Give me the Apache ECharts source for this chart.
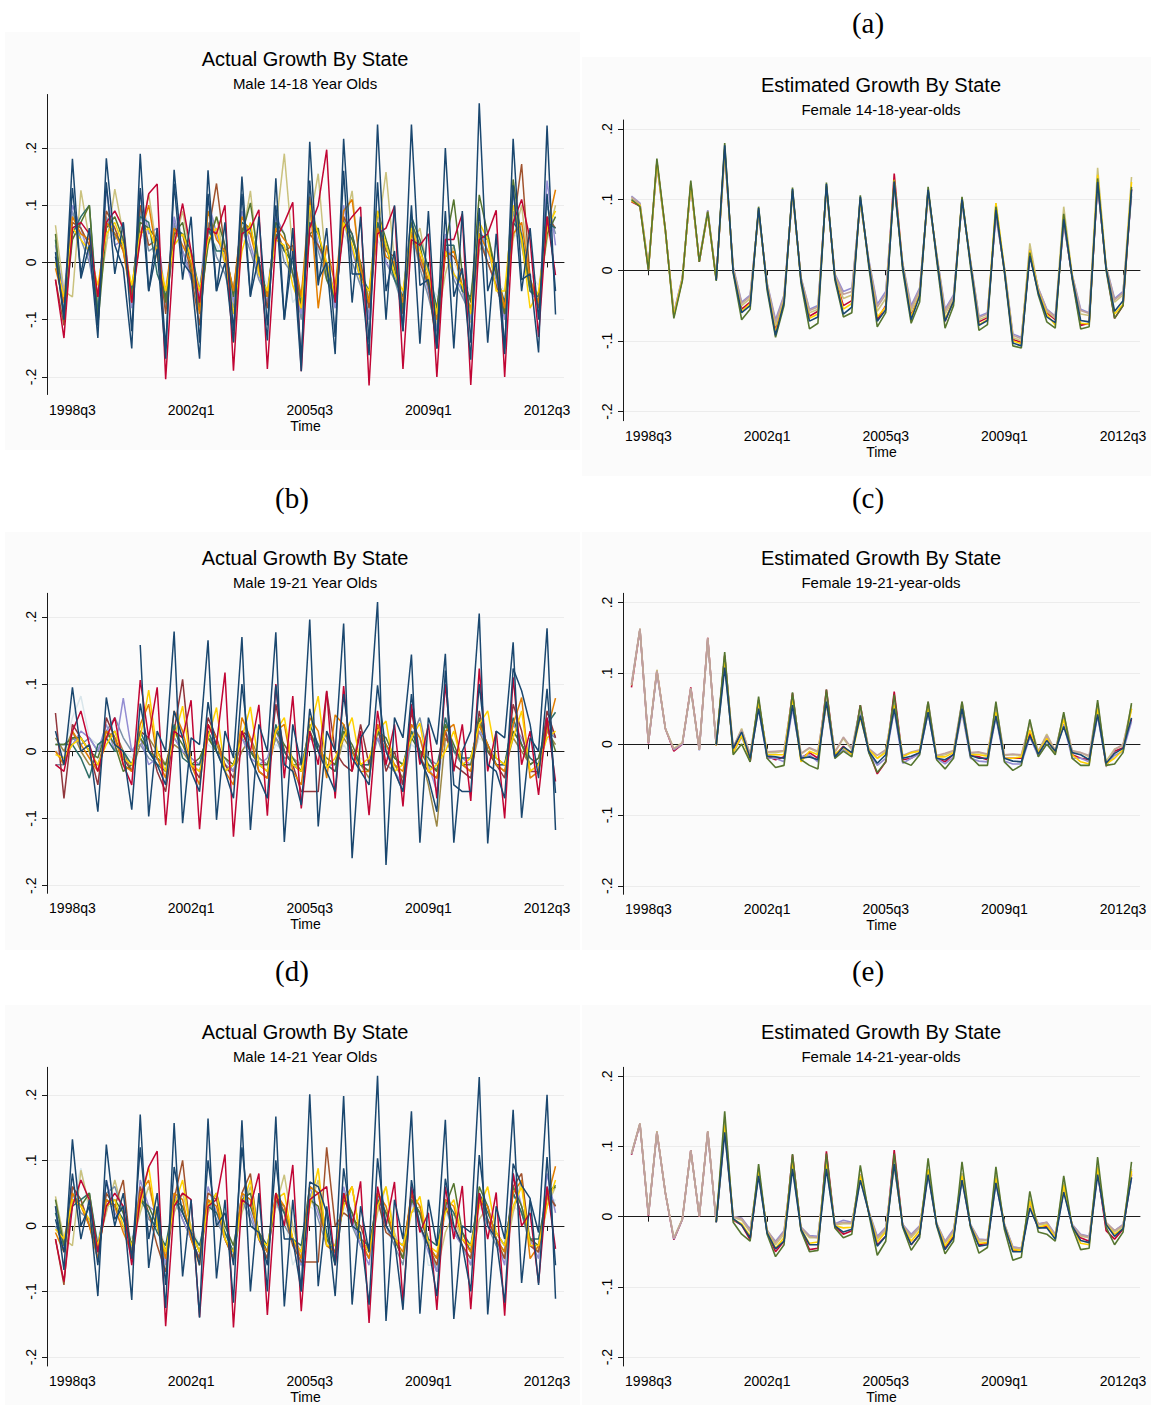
<!DOCTYPE html>
<html><head><meta charset="utf-8"><title>Growth By State</title>
<script src="https://cdn.jsdelivr.net/npm/echarts/dist/echarts.min.js"></script>
<style>html,body{margin:0;padding:0;background:#fff}#chart{width:1151px;height:1405px}</style>
</head><body><div id="chart"></div>
<script>
// ---------- categories / ticks ----------
const QUARTERS = (function () {
  const out = [];
  for (let y = 1997; y <= 2013; y++) for (let q = 1; q <= 4; q++) out.push(y + 'q' + q);
  return out.slice(out.indexOf('1997q4'), out.indexOf('2013q1') + 1);
})();
const TICK_LABELS = ['1998q3', '2002q1', '2005q3', '2009q1', '2012q3'];
const Y_TICKS = [-0.2, -0.1, 0, 0.1, 0.2];
const N10 = [null, null, null, null, null, null, null, null, null, null];

// ---------- (a) Actual, Male 14-18 (1998q1..2012q4) ----------
const A_navy1 = [0.018,-0.100,0.181,-0.028,0.030,-0.132,0.182,0.030,-0.010,-0.150,
0.190,-0.050,0.024,-0.168,0.162,0.000,-0.020,-0.168,0.161,-0.050,
0.000,-0.139,0.150,-0.058,0.010,-0.136,0.147,-0.100,0.020,-0.190,
0.211,-0.030,0.000,-0.160,0.216,-0.020,-0.020,-0.162,0.241,-0.050,
0.020,-0.120,0.241,-0.040,-0.030,-0.150,0.200,-0.060,-0.010,-0.170,
0.278,-0.050,0.000,-0.160,0.216,-0.030,-0.020,-0.157,0.239,-0.091];
const A_navy2 = [0.010,-0.090,0.130,-0.020,0.060,-0.110,0.140,-0.020,0.070,-0.120,
0.130,-0.050,0.060,-0.150,0.138,-0.030,0.080,-0.140,0.120,-0.050,
0.070,-0.120,0.120,-0.060,0.080,-0.110,0.100,-0.100,0.060,-0.170,
0.143,-0.040,0.060,-0.130,0.160,-0.070,0.080,-0.140,0.140,-0.100,
0.100,-0.120,0.100,-0.142,0.090,-0.150,0.090,-0.150,0.090,-0.140,
0.095,-0.140,0.050,-0.150,0.135,-0.050,0.060,-0.100,0.120,-0.050];
const A_cran = [-0.030,-0.132,0.060,0.070,0.050,-0.060,0.070,0.090,0.060,-0.070,
0.040,0.120,0.137,-0.204,0.030,0.103,0.020,-0.070,0.060,0.050,
0.100,-0.189,0.050,0.060,0.092,-0.186,0.040,0.070,0.105,-0.190,
0.060,0.100,0.197,-0.070,0.060,0.080,0.097,-0.215,0.050,0.060,
0.098,-0.186,0.040,0.030,0.050,-0.200,0.040,0.040,0.085,-0.214,
0.040,0.050,0.091,-0.200,0.070,0.110,0.040,-0.130,0.080,-0.022];
const A_gold = [0.000,-0.060,0.060,0.040,0.020,-0.040,0.050,0.070,0.030,-0.040,
0.050,0.060,0.020,-0.050,0.030,0.050,0.010,-0.050,0.040,0.060,
0.000,-0.090,0.020,0.070,-0.020,-0.050,0.040,0.030,-0.040,-0.080,
0.100,0.050,0.000,-0.060,0.070,0.030,-0.030,-0.050,0.090,0.030,
-0.020,-0.050,0.060,0.020,-0.020,-0.090,0.020,-0.020,-0.040,-0.090,
0.070,0.040,-0.050,-0.050,0.100,0.040,-0.080,-0.050,0.060,0.090];
const A_orange = [-0.010,-0.070,0.080,0.050,0.040,-0.060,0.070,0.050,0.020,-0.070,
0.050,0.100,0.010,-0.050,0.060,0.030,0.000,-0.090,0.090,0.040,
0.020,-0.050,0.080,0.050,-0.010,-0.060,0.060,0.040,0.020,-0.060,
0.115,-0.080,0.030,-0.040,0.090,0.110,-0.010,-0.070,0.060,0.010,
0.000,-0.070,0.050,0.010,-0.030,-0.100,0.010,0.020,-0.040,-0.080,
0.050,0.020,-0.010,-0.080,0.050,0.070,-0.030,-0.070,0.060,0.127];
const A_forest = [0.050,-0.100,0.040,0.070,0.100,-0.110,0.060,0.080,0.040,-0.060,
0.070,0.060,0.040,-0.070,0.050,0.070,-0.010,-0.080,0.030,0.080,
0.030,-0.060,0.050,0.104,0.000,-0.060,0.070,0.050,-0.020,-0.070,
0.050,0.060,-0.030,-0.060,0.070,0.040,0.000,-0.070,0.090,0.040,
-0.010,-0.080,0.070,0.030,-0.040,-0.080,0.030,0.110,-0.020,-0.070,
0.118,0.050,-0.020,-0.090,0.145,0.040,-0.040,-0.070,0.050,0.080];
const A_lav = [0.030,-0.060,0.100,0.060,0.010,-0.100,0.130,0.030,0.040,-0.080,
0.125,0.050,0.060,-0.070,0.080,0.020,-0.030,-0.060,0.110,0.050,
0.000,-0.070,0.090,0.030,-0.020,-0.070,0.080,0.050,-0.020,-0.090,
0.110,0.030,-0.010,-0.080,0.100,0.020,-0.030,-0.100,0.090,0.000,
-0.020,-0.070,0.070,0.010,-0.050,-0.120,0.050,-0.020,-0.050,-0.100,
0.060,0.020,-0.030,-0.100,0.120,0.050,-0.040,-0.080,0.143,0.030];
const A_khaki = [0.065,-0.050,-0.060,0.126,0.040,-0.070,0.030,0.128,0.050,-0.060,
0.040,0.120,0.020,-0.075,0.030,0.090,0.010,-0.070,0.030,0.080,
0.000,-0.060,0.040,0.125,-0.010,-0.050,0.060,0.190,0.020,-0.090,
0.070,0.155,-0.020,-0.050,0.060,0.125,-0.020,-0.060,0.050,0.158,
0.000,-0.080,0.030,0.060,-0.020,-0.110,-0.020,0.030,-0.050,-0.105,
0.020,0.050,-0.020,-0.080,0.040,0.100,-0.030,-0.060,0.040,0.100];
const A_emerald = [0.040,-0.090,0.050,0.080,0.100,-0.090,0.070,0.050,0.030,-0.050,
0.080,0.070,-0.020,-0.060,0.060,0.050,0.020,-0.050,0.060,0.020,
0.020,-0.050,0.070,0.060,0.000,-0.060,0.050,0.020,0.000,-0.060,
0.070,0.050,-0.010,-0.070,0.070,0.050,-0.020,-0.050,0.070,0.030,
-0.030,-0.060,0.080,0.040,-0.010,-0.080,0.030,0.030,-0.050,-0.060,
0.050,0.040,-0.020,-0.070,0.070,0.050,-0.050,-0.060,0.070,0.060];
const A_sienna = [-0.030,-0.110,0.070,0.060,0.030,-0.060,0.090,0.060,0.020,-0.060,
0.100,0.030,0.040,-0.090,0.050,0.050,-0.020,-0.110,0.050,0.138,
0.020,-0.140,0.060,0.050,0.000,-0.080,0.060,0.020,0.030,-0.080,
0.050,0.030,0.000,-0.060,0.080,0.050,-0.010,-0.080,0.070,0.020,
0.010,-0.090,0.060,0.000,-0.040,-0.150,0.020,0.010,-0.020,-0.090,
0.040,0.000,-0.040,-0.090,0.060,0.172,-0.030,-0.080,0.080,0.060];
const A_emid = [0.000,-0.070,0.090,0.040,0.000,-0.080,0.080,0.040,0.070,-0.070,
0.090,0.020,0.030,-0.080,0.070,0.020,-0.020,-0.070,0.070,0.010,
-0.020,-0.080,0.060,0.020,-0.030,-0.060,0.070,0.000,-0.020,-0.100,
0.090,0.020,-0.030,-0.070,0.080,0.000,-0.040,-0.090,0.070,0.000,
-0.030,-0.080,0.060,-0.010,-0.060,-0.120,0.030,-0.030,-0.060,-0.090,
0.050,0.000,-0.040,-0.090,0.090,0.030,-0.050,-0.070,0.100,0.050];
const A_gray = [0.020,-0.050,0.050,0.050,0.020,-0.040,0.040,0.050,0.020,-0.040,
0.050,0.040,0.020,-0.040,0.040,0.030,0.000,-0.040,0.040,0.030,
0.000,-0.040,0.040,0.030,0.000,-0.040,0.040,0.030,-0.070,-0.050,
0.050,0.030,-0.010,-0.040,0.050,0.020,-0.020,-0.050,0.040,0.010,
-0.020,-0.050,0.030,0.010,-0.030,-0.060,0.020,0.000,-0.030,-0.050,
0.030,0.020,-0.030,-0.050,0.050,0.040,-0.020,-0.040,0.050,0.060];

// ---------- (a) Estimated, Female 14-18 ----------
const EA_navy = N10.concat([-0.014,0.177,-0.002,-0.060,-0.050,0.088,-0.023,-0.092,-0.045,0.115,
-0.014,-0.072,-0.066,0.122,-0.010,-0.062,-0.052,0.104,0.010,-0.072,
-0.056,0.125,0.005,-0.070,-0.036,0.114,0.020,-0.072,-0.044,0.100,
0.010,-0.078,-0.071,0.085,0.000,-0.103,-0.107,0.020,-0.032,-0.066,
-0.074,0.072,-0.010,-0.071,-0.073,0.125,0.003,-0.058,-0.043,0.114]);
const EA_forest = [0.100,0.090,0.000,0.158,0.057,-0.068,-0.015,0.127,0.012,0.083,
-0.015,0.180,-0.004,-0.070,-0.055,0.090,-0.028,-0.095,-0.050,0.117,
-0.018,-0.083,-0.075,0.124,-0.014,-0.066,-0.060,0.106,0.005,-0.080,
-0.060,0.127,0.000,-0.075,-0.045,0.118,0.015,-0.082,-0.050,0.104,
0.005,-0.085,-0.077,0.090,-0.003,-0.107,-0.110,0.025,-0.035,-0.073,
-0.082,0.080,-0.013,-0.083,-0.080,0.130,0.000,-0.068,-0.050,0.118];
const EA_gold = [0.098,0.092,0.002,0.154,0.056,-0.065,-0.013,0.123,0.013,0.082,
-0.013,0.172,-0.001,-0.058,-0.047,0.086,-0.022,-0.088,-0.043,0.113,
-0.014,-0.068,-0.062,0.120,-0.009,-0.055,-0.047,0.100,0.010,-0.066,
-0.052,0.128,0.006,-0.066,-0.035,0.112,0.021,-0.069,-0.045,0.101,
0.011,-0.077,-0.070,0.095,0.002,-0.100,-0.104,0.028,-0.030,-0.062,
-0.078,0.078,-0.008,-0.075,-0.076,0.135,0.004,-0.062,-0.048,0.125];
const EA_cran = [0.097,0.091,0.001,0.153,0.057,-0.064,-0.013,0.122,0.012,0.081,
-0.013,0.170,0.000,-0.055,-0.045,0.085,-0.022,-0.085,-0.042,0.112,
-0.013,-0.065,-0.058,0.119,-0.009,-0.050,-0.043,0.100,0.011,-0.070,
-0.050,0.137,0.006,-0.064,-0.035,0.112,0.020,-0.072,-0.042,0.100,
0.011,-0.073,-0.067,0.083,0.000,-0.098,-0.102,0.022,-0.030,-0.060,
-0.070,0.070,-0.010,-0.078,-0.075,0.124,0.003,-0.068,-0.050,0.115];
const EA_khaki = [0.102,0.093,0.003,0.152,0.056,-0.062,-0.012,0.121,0.013,0.080,
-0.012,0.168,0.002,-0.050,-0.040,0.084,-0.020,-0.078,-0.040,0.111,
-0.012,-0.060,-0.055,0.118,-0.008,-0.040,-0.035,0.102,0.012,-0.058,
-0.040,0.122,0.008,-0.058,-0.030,0.113,0.022,-0.062,-0.040,0.103,
0.012,-0.070,-0.065,0.095,0.003,-0.095,-0.100,0.038,-0.028,-0.058,
-0.068,0.090,-0.007,-0.062,-0.064,0.145,0.005,-0.045,-0.035,0.132];
const EA_erose = [0.104,0.094,0.004,0.151,0.055,-0.061,-0.011,0.120,0.014,0.084,
-0.012,0.166,0.003,-0.047,-0.037,0.082,-0.019,-0.074,-0.037,0.110,
-0.011,-0.057,-0.052,0.117,-0.007,-0.034,-0.030,0.097,0.013,-0.052,
-0.034,0.120,0.008,-0.054,-0.027,0.108,0.022,-0.058,-0.037,0.097,
0.012,-0.067,-0.062,0.080,0.002,-0.092,-0.097,0.030,-0.026,-0.056,
-0.066,0.068,-0.008,-0.057,-0.061,0.122,0.004,-0.042,-0.032,0.110];
const EA_lav = [0.105,0.095,0.005,0.150,0.055,-0.060,-0.010,0.120,0.015,0.085,
-0.011,0.165,0.005,-0.045,-0.035,0.080,-0.018,-0.070,-0.035,0.108,
-0.010,-0.055,-0.050,0.115,-0.005,-0.030,-0.025,0.095,0.015,-0.048,
-0.030,0.118,0.010,-0.050,-0.025,0.105,0.024,-0.055,-0.035,0.095,
0.014,-0.065,-0.060,0.075,0.004,-0.090,-0.095,0.025,-0.025,-0.055,
-0.065,0.065,-0.006,-0.055,-0.060,0.120,0.006,-0.040,-0.030,0.105];

// ---------- (b) Actual, Male 19-21 ----------
const B_navy1 = N10.concat([0.158,-0.097,0.030,0.000,0.178,-0.107,0.020,0.010,0.165,-0.102,
0.030,-0.010,0.170,-0.117,0.040,0.000,0.177,-0.135,0.040,-0.020,
0.196,-0.112,0.030,0.000,0.190,-0.159,0.020,0.040,0.222,-0.169,
0.050,0.020,0.144,-0.136,0.050,0.010,0.145,-0.136,0.000,0.030,
0.205,-0.137,0.030,0.020,0.162,-0.099,0.020,0.000,0.183,-0.117]);
const B_navy2 = [0.030,-0.020,0.095,0.000,0.010,-0.090,0.080,0.010,0.000,-0.087,
0.071,0.000,-0.020,-0.050,0.060,0.020,-0.030,-0.060,0.073,0.000,
-0.030,-0.070,0.100,-0.010,-0.040,-0.070,0.098,-0.020,-0.030,-0.080,
0.063,0.000,-0.030,-0.060,0.085,-0.010,-0.030,-0.050,0.098,0.000,
-0.030,-0.060,0.085,-0.010,-0.040,-0.090,0.120,-0.050,-0.060,-0.060,
0.100,-0.020,-0.030,-0.070,0.123,0.090,0.040,-0.040,0.093,-0.062];
const B_cran = [-0.020,-0.030,0.030,0.060,0.010,-0.030,0.020,0.050,-0.020,-0.050,
0.106,0.020,0.095,-0.110,0.030,0.020,0.076,-0.116,0.040,0.010,
0.117,-0.127,0.030,0.000,0.069,-0.096,0.100,-0.040,0.082,-0.085,
0.030,-0.020,0.090,-0.070,0.097,-0.030,0.030,-0.095,0.060,-0.020,
0.040,-0.082,0.070,-0.020,0.040,-0.070,0.100,-0.030,0.040,-0.074,
0.123,-0.030,0.030,-0.100,0.110,-0.020,0.030,-0.065,0.050,-0.045];
const B_gold = [-0.005,-0.010,0.010,0.020,0.000,-0.020,0.010,0.030,-0.010,-0.020,
0.020,0.091,0.000,-0.030,0.020,0.067,-0.020,-0.030,0.020,0.065,
-0.030,-0.020,0.020,0.066,-0.020,-0.030,0.030,0.050,-0.020,-0.030,
0.030,0.082,-0.025,-0.010,0.020,0.050,-0.020,-0.010,0.030,0.045,
-0.030,-0.020,0.020,0.042,-0.030,-0.020,0.000,0.030,-0.020,-0.010,
0.040,0.060,-0.010,-0.020,0.020,0.060,-0.030,-0.020,0.020,0.030];
const B_orange = [0.000,-0.020,0.030,0.010,-0.010,-0.030,0.030,0.020,-0.020,-0.030,
0.040,0.070,-0.010,-0.040,0.060,0.030,-0.020,-0.050,0.040,0.020,
-0.030,-0.050,0.050,0.020,-0.030,-0.040,0.030,0.040,-0.030,-0.050,
0.050,0.030,-0.040,0.054,0.040,0.000,-0.030,-0.030,0.040,0.010,
-0.020,-0.030,0.040,0.020,-0.030,-0.040,0.030,0.040,-0.020,-0.030,
0.040,0.010,-0.020,-0.030,0.040,0.080,-0.040,-0.030,0.030,0.079];
const B_forest = [0.010,0.010,0.020,0.020,0.000,-0.010,0.030,0.010,-0.030,-0.020,
0.020,0.000,-0.010,-0.020,0.030,0.010,-0.020,-0.010,0.020,0.000,
-0.010,-0.020,0.030,0.000,-0.020,-0.020,0.030,0.010,-0.010,-0.030,
0.030,0.000,-0.010,-0.020,0.030,0.010,-0.020,-0.030,0.030,0.020,
-0.010,-0.020,0.020,0.000,-0.020,-0.030,0.040,0.010,-0.020,-0.020,
0.050,0.000,-0.010,-0.020,0.030,0.010,-0.020,-0.010,0.040,0.000];
const B_lav = [0.000,-0.010,0.010,0.030,0.020,0.000,0.040,0.000,0.079,0.000,
0.020,-0.020,-0.010,-0.030,0.020,0.000,-0.010,-0.020,0.030,0.000,
-0.020,-0.030,0.020,-0.010,-0.020,-0.010,0.030,0.000,-0.020,-0.030,
0.020,0.010,-0.020,-0.020,0.040,0.000,-0.020,-0.020,0.020,0.000,
-0.030,-0.050,0.040,0.020,-0.020,-0.060,0.050,0.000,-0.010,-0.020,
0.030,0.010,-0.020,-0.020,0.040,0.020,-0.010,-0.020,0.050,0.020];
const B_brown = [0.020,0.000,0.030,0.000,-0.020,-0.020,0.020,0.030,0.000,-0.030,
0.010,0.020,0.000,-0.020,0.010,0.000,-0.020,-0.030,0.020,0.010,
-0.020,-0.030,0.000,0.020,-0.010,-0.020,0.020,0.000,-0.020,-0.020,
0.020,0.010,-0.020,-0.030,0.020,0.000,-0.020,-0.040,0.030,0.000,
-0.020,-0.040,0.030,0.000,-0.050,-0.112,0.020,0.000,-0.020,-0.030,
0.030,0.000,-0.020,-0.030,0.020,0.000,-0.020,-0.010,0.030,0.010];
const B_maroon = [0.057,-0.070,0.040,0.020,0.000,-0.050,0.050,0.020,-0.010,-0.030,
0.030,0.020,-0.030,-0.060,0.030,0.107,-0.020,-0.040,0.050,0.020,
-0.020,-0.040,0.030,0.020,-0.030,-0.040,0.070,0.000,-0.020,-0.060,
-0.060,-0.060,0.089,0.000,-0.020,-0.030,0.040,-0.020,0.040,-0.030,
0.000,-0.050,0.060,-0.010,-0.030,-0.040,0.030,-0.020,-0.030,-0.040,
0.060,0.000,-0.020,-0.040,0.070,0.030,-0.030,-0.030,0.060,0.020];
const B_emerald = [0.010,0.010,0.010,-0.010,-0.040,0.010,0.020,0.000,0.000,-0.020,
0.030,0.000,-0.020,-0.030,0.040,-0.010,-0.020,-0.020,0.030,0.000,
-0.030,-0.020,0.030,0.000,-0.020,-0.030,0.040,0.000,-0.020,-0.030,
0.040,0.010,-0.020,-0.030,0.040,0.000,-0.020,-0.020,0.030,0.010,
-0.010,-0.020,0.030,0.000,-0.010,-0.030,0.050,0.000,-0.010,-0.010,
0.040,0.010,-0.020,-0.020,0.050,0.010,-0.010,-0.020,0.040,0.058];
const B_emid = [-0.020,-0.020,0.020,0.010,0.020,0.000,0.030,0.050,0.020,0.000,
0.010,-0.010,-0.020,-0.020,0.020,0.000,-0.010,-0.020,0.020,0.000,
-0.010,-0.030,0.020,0.000,-0.010,-0.020,0.020,-0.010,-0.010,-0.020,
0.030,0.000,-0.020,-0.020,0.030,0.000,-0.020,-0.030,0.020,-0.020,
-0.030,-0.060,0.020,0.050,-0.010,-0.020,0.030,0.000,-0.020,-0.010,
0.040,0.000,-0.010,-0.020,0.030,0.010,-0.020,-0.010,0.030,0.020];
const B_gray = [0.000,0.000,0.050,0.082,0.020,0.010,0.020,0.000,0.000,-0.010,
0.020,0.000,-0.010,-0.020,0.010,0.000,-0.010,-0.020,0.010,0.000,
-0.010,-0.020,0.020,0.000,-0.010,-0.020,0.010,0.000,-0.010,-0.020,
0.020,0.010,-0.010,-0.020,0.010,-0.010,-0.010,-0.020,0.020,0.000,
-0.010,-0.020,0.010,0.000,-0.020,-0.050,0.010,0.000,-0.010,-0.020,
0.020,0.010,-0.010,-0.020,0.020,0.000,-0.010,-0.020,0.020,0.010];

// ---------- (c) Estimated, Female 19-21 ----------
const EC_navy = N10.concat([-0.001,0.108,-0.006,0.017,-0.020,0.050,-0.017,-0.018,-0.020,0.055,
-0.020,-0.018,-0.022,0.060,-0.018,-0.004,-0.012,0.040,-0.010,-0.027,
-0.015,0.050,-0.020,-0.017,-0.012,0.045,-0.020,-0.022,-0.015,0.050,
-0.016,-0.020,-0.020,0.040,-0.020,-0.024,-0.025,0.012,-0.014,0.005,
-0.010,0.025,-0.012,-0.015,-0.022,0.042,-0.027,-0.013,-0.006,0.037]);
const EC_forest = N10.concat([0.000,0.130,-0.015,0.000,-0.025,0.067,-0.020,-0.033,-0.030,0.073,
-0.022,-0.030,-0.035,0.077,-0.020,-0.010,-0.018,0.055,-0.012,-0.040,
-0.025,0.070,-0.025,-0.030,-0.015,0.060,-0.022,-0.035,-0.020,0.060,
-0.018,-0.030,-0.030,0.060,-0.025,-0.037,-0.030,0.035,-0.018,0.000,
-0.015,0.045,-0.020,-0.030,-0.030,0.062,-0.030,-0.028,-0.012,0.058]);
const EC_gold = N10.concat([-0.002,0.120,-0.012,0.012,-0.022,0.060,-0.015,-0.015,-0.015,0.065,
-0.025,-0.010,-0.015,0.058,-0.014,-0.005,-0.015,0.038,-0.008,-0.020,
-0.012,0.055,-0.018,-0.012,-0.010,0.050,-0.018,-0.018,-0.012,0.050,
-0.015,-0.015,-0.017,0.045,-0.020,-0.020,-0.018,0.020,-0.012,0.008,
-0.012,0.035,-0.015,-0.025,-0.028,0.050,-0.028,-0.020,-0.008,0.050]);
const EC_cran = [0.080,0.162,0.001,0.104,0.022,-0.010,0.000,0.080,-0.008,0.150,
-0.002,0.125,-0.010,0.020,-0.025,0.062,-0.017,-0.022,-0.018,0.072,
-0.020,-0.012,-0.020,0.077,-0.016,-0.003,-0.014,0.055,-0.010,-0.042,
-0.025,0.074,-0.022,-0.020,-0.012,0.055,-0.020,-0.025,-0.014,0.055,
-0.016,-0.018,-0.022,0.045,-0.020,-0.020,-0.020,0.015,-0.015,0.008,
-0.012,0.038,-0.015,-0.020,-0.022,0.050,-0.030,-0.010,-0.005,0.035];
const EC_khaki = [0.083,0.163,0.003,0.105,0.022,-0.006,0.002,0.078,-0.008,0.149,
-0.001,0.125,-0.005,0.022,-0.015,0.060,-0.012,-0.012,-0.010,0.068,
-0.014,-0.006,-0.012,0.070,-0.012,0.008,-0.008,0.050,-0.007,-0.020,
-0.010,0.060,-0.017,-0.012,-0.009,0.058,-0.017,-0.015,-0.010,0.058,
-0.013,-0.012,-0.015,0.050,-0.016,-0.015,-0.016,0.030,-0.010,0.014,
-0.009,0.042,-0.010,-0.012,-0.018,0.055,-0.024,-0.007,-0.002,0.055];
const EC_erose = [0.085,0.163,0.002,0.103,0.021,-0.007,0.001,0.079,-0.008,0.150,
-0.001,0.124,-0.004,0.020,-0.013,0.058,-0.011,-0.010,-0.009,0.066,
-0.013,-0.005,-0.010,0.068,-0.011,0.010,-0.006,0.052,-0.006,-0.016,
-0.008,0.060,-0.016,-0.011,-0.008,0.060,-0.016,-0.013,-0.009,0.060,
-0.012,-0.011,-0.014,0.055,-0.015,-0.014,-0.015,0.030,-0.011,0.012,
-0.009,0.040,-0.009,-0.012,-0.016,0.058,-0.032,-0.008,0.000,0.050];
const EC_lav = [0.084,0.162,0.002,0.102,0.022,-0.008,0.000,0.078,-0.009,0.148,
-0.002,0.115,-0.012,0.010,-0.018,0.050,-0.020,-0.020,-0.025,0.050,
-0.018,-0.015,-0.025,0.058,-0.020,-0.008,-0.015,0.045,-0.012,-0.030,
-0.020,0.048,-0.027,-0.020,-0.014,0.045,-0.020,-0.028,-0.018,0.045,
-0.020,-0.024,-0.025,0.038,-0.024,-0.028,-0.028,0.010,-0.017,0.000,
-0.012,0.028,-0.020,-0.020,-0.025,0.040,-0.028,-0.016,-0.010,0.032];

// ---------- (d) Actual, Male 14-21 ----------
const D_navy1 = [0.030,-0.067,0.132,0.000,0.030,-0.107,0.124,0.010,0.030,-0.113,
0.170,-0.064,0.030,-0.125,0.157,-0.077,0.040,-0.140,0.164,-0.080,
0.040,-0.117,0.161,-0.100,0.050,-0.100,0.167,-0.123,0.040,-0.100,
0.201,-0.092,0.030,-0.060,0.198,-0.120,0.030,-0.040,0.229,-0.145,
0.040,-0.020,0.175,-0.134,0.040,-0.030,0.162,-0.142,0.000,-0.010,
0.227,-0.135,0.030,-0.020,0.177,-0.087,0.040,-0.010,0.200,-0.111];
const D_navy2 = [0.010,-0.040,0.080,-0.020,0.040,-0.060,0.070,0.000,0.050,-0.050,
0.120,-0.020,0.050,-0.090,0.090,0.020,-0.010,-0.060,0.100,0.000,
0.020,-0.060,0.120,0.000,-0.010,-0.060,0.100,-0.020,-0.020,-0.100,
0.067,0.060,0.020,-0.107,0.088,0.000,-0.010,-0.120,0.103,0.000,
-0.020,-0.128,0.070,0.000,-0.030,-0.107,0.072,0.000,-0.030,-0.100,
0.108,0.000,-0.020,-0.117,0.095,0.062,0.042,-0.090,0.105,-0.060];
const D_cran = [-0.020,-0.085,0.030,0.070,0.040,-0.040,0.030,0.050,0.030,-0.060,
0.040,0.090,0.114,-0.153,0.030,0.050,0.040,-0.139,0.030,0.040,
0.109,-0.155,0.040,0.030,0.080,-0.136,0.050,0.000,0.093,-0.130,
0.040,0.050,0.060,-0.060,0.050,0.000,0.068,-0.148,0.060,0.000,
0.067,-0.116,0.060,-0.010,0.020,-0.128,0.060,-0.020,0.061,-0.127,
0.050,-0.020,0.051,-0.137,0.080,0.000,0.020,-0.087,0.060,-0.035];
const D_gold = [-0.005,-0.020,0.040,0.030,0.010,-0.030,0.030,0.040,0.000,-0.030,
0.030,0.090,0.000,-0.040,0.030,0.070,-0.010,-0.040,0.030,0.050,
-0.020,-0.040,0.030,0.070,-0.020,-0.030,0.040,0.050,-0.020,-0.040,
0.030,0.088,-0.030,-0.030,0.030,0.060,-0.020,-0.040,0.030,0.060,
-0.020,-0.030,0.020,0.045,-0.030,-0.040,0.020,0.040,-0.020,-0.030,
0.030,0.060,-0.010,-0.030,0.030,0.060,-0.030,-0.030,0.030,0.070];
const D_orange = [-0.010,-0.040,0.050,0.030,0.000,-0.050,0.040,0.030,-0.010,-0.040,
0.050,0.070,0.000,-0.050,0.050,0.040,-0.020,-0.060,0.040,0.030,
-0.020,-0.050,0.050,0.040,-0.020,-0.040,0.050,0.030,-0.020,-0.050,
0.060,0.050,-0.030,-0.040,0.040,0.060,-0.020,-0.050,0.050,0.030,
-0.020,-0.040,0.050,0.030,-0.030,-0.050,0.040,0.030,-0.020,-0.040,
0.040,0.030,-0.020,-0.040,0.050,0.070,-0.050,-0.030,0.040,0.091];
const D_forest = [0.040,-0.030,0.040,0.030,0.050,-0.040,0.030,0.040,0.020,-0.030,
0.040,0.030,0.000,-0.040,0.040,0.030,-0.010,-0.040,0.030,0.050,
0.000,-0.030,0.040,0.050,-0.010,-0.040,0.040,0.030,-0.020,-0.040,
0.040,0.030,-0.020,-0.040,0.050,0.020,-0.020,-0.040,0.050,0.020,
-0.020,-0.050,0.040,0.020,-0.030,-0.050,0.030,0.065,-0.010,-0.040,
0.060,0.030,-0.020,-0.040,0.060,0.030,-0.020,-0.030,0.050,0.060];
const D_lav = [0.030,-0.040,0.060,0.040,0.000,-0.050,0.070,0.020,0.000,-0.050,
0.070,0.030,0.020,-0.060,0.050,0.010,-0.020,-0.050,0.060,0.020,
-0.020,-0.050,0.050,0.020,-0.020,-0.050,0.050,0.020,-0.020,-0.060,
0.060,0.020,-0.020,-0.050,0.060,0.010,-0.030,-0.060,0.050,0.000,
-0.020,-0.050,0.040,0.000,-0.040,-0.070,0.040,-0.010,-0.030,-0.060,
0.050,0.010,-0.020,-0.060,0.080,0.030,-0.020,-0.050,0.080,0.020];
const D_khaki = [0.045,-0.020,-0.030,0.085,0.030,-0.030,0.020,0.070,0.020,-0.030,
0.020,0.060,0.010,-0.040,0.020,0.050,0.000,-0.040,0.020,0.050,
-0.010,-0.040,0.020,0.060,-0.010,-0.030,0.030,0.078,0.000,-0.050,
0.030,0.070,-0.020,-0.030,0.030,0.060,-0.020,-0.040,0.020,0.060,
-0.010,-0.050,0.020,0.030,-0.020,-0.070,-0.010,0.020,-0.030,-0.060,
0.010,0.030,-0.020,-0.050,0.020,0.070,-0.020,-0.040,0.030,0.060];
const D_sienna = [-0.020,-0.090,0.060,0.040,0.000,-0.040,0.050,0.030,0.070,-0.050,
0.060,0.020,-0.030,-0.070,0.040,0.100,-0.020,-0.050,0.050,0.040,
-0.020,-0.050,0.050,0.080,-0.020,-0.050,0.050,0.020,-0.030,-0.055,
-0.055,-0.055,0.120,0.000,0.020,0.010,0.000,-0.040,0.040,-0.010,
-0.020,-0.050,0.050,0.000,-0.030,-0.060,0.030,0.000,-0.030,-0.050,
0.050,0.010,-0.020,-0.050,0.060,0.080,-0.030,-0.040,0.050,0.030];
const D_emerald = [0.020,-0.030,0.030,0.040,0.050,-0.030,0.040,0.030,0.010,-0.030,
0.040,0.020,-0.010,-0.030,0.040,0.020,-0.010,-0.030,0.030,0.020,
-0.010,-0.040,0.040,0.030,-0.010,-0.030,0.040,0.020,-0.020,-0.030,
0.060,0.050,-0.010,-0.060,0.040,0.020,-0.020,-0.030,0.040,0.020,
-0.020,-0.030,0.040,0.020,-0.020,-0.030,0.040,0.020,-0.010,-0.030,
0.050,0.020,-0.010,-0.030,0.050,0.020,-0.020,-0.020,0.050,0.062];
const D_emid = [0.000,-0.030,0.050,0.020,0.010,-0.040,0.050,0.060,0.020,-0.040,
0.050,0.010,0.000,-0.050,0.040,0.010,-0.020,-0.050,0.040,0.010,
-0.020,-0.050,0.040,0.010,-0.020,-0.040,0.040,0.000,-0.020,-0.060,
0.050,0.010,-0.030,-0.040,0.050,0.000,-0.030,-0.050,0.040,0.000,
-0.030,-0.060,0.040,0.020,-0.030,-0.070,0.030,-0.010,-0.030,-0.050,
0.040,0.000,-0.030,-0.050,0.050,0.020,-0.030,-0.040,0.060,0.030];
const D_gray = [0.020,-0.020,0.040,0.088,0.020,-0.020,0.030,0.030,0.010,-0.020,
0.030,0.030,0.000,-0.030,0.030,0.020,0.000,-0.030,0.030,0.020,
-0.010,-0.030,0.030,0.020,-0.010,-0.030,0.030,0.020,-0.060,-0.030,
0.030,0.020,-0.010,-0.030,0.030,0.010,-0.020,-0.030,0.030,0.010,
-0.020,-0.030,0.030,0.010,-0.060,-0.060,0.020,0.000,-0.020,-0.030,
0.030,0.010,-0.020,-0.030,0.030,0.020,-0.020,-0.030,0.030,0.040];

// ---------- (e) Estimated, Female 14-21 ----------
const EE_navy = N10.concat([-0.008,0.120,-0.003,-0.012,-0.030,0.058,-0.023,-0.046,-0.035,0.068,
-0.018,-0.040,-0.040,0.068,-0.013,-0.022,-0.018,0.052,0.006,-0.042,
-0.028,0.075,-0.013,-0.040,-0.025,0.060,-0.011,-0.047,-0.030,0.052,
-0.013,-0.042,-0.040,0.048,-0.013,-0.050,-0.050,0.012,-0.016,-0.016,
-0.032,0.035,-0.013,-0.034,-0.037,0.060,-0.011,-0.028,-0.017,0.056]);
const EE_forest = N10.concat([-0.008,0.150,-0.008,-0.025,-0.035,0.075,-0.025,-0.057,-0.040,0.089,
-0.020,-0.050,-0.048,0.090,-0.016,-0.030,-0.025,0.073,0.004,-0.055,
-0.035,0.090,-0.015,-0.048,-0.030,0.083,-0.013,-0.053,-0.035,0.078,
-0.015,-0.052,-0.044,0.071,-0.018,-0.062,-0.058,0.036,-0.022,-0.025,
-0.035,0.058,-0.015,-0.047,-0.045,0.085,-0.015,-0.040,-0.022,0.078]);
const EE_gold = N10.concat([-0.007,0.130,-0.004,-0.010,-0.028,0.065,-0.022,-0.045,-0.030,0.080,
-0.018,-0.038,-0.036,0.075,-0.013,-0.016,-0.015,0.058,0.006,-0.036,
-0.022,0.075,-0.013,-0.035,-0.020,0.067,-0.011,-0.042,-0.025,0.058,
-0.013,-0.038,-0.037,0.055,-0.013,-0.047,-0.048,0.022,-0.015,-0.012,
-0.030,0.045,-0.013,-0.038,-0.040,0.070,-0.011,-0.025,-0.017,0.065]);
const EE_cran = [0.088,0.132,0.001,0.121,0.034,-0.033,-0.004,0.095,0.000,0.121,
-0.008,0.128,-0.005,-0.012,-0.033,0.065,-0.022,-0.050,-0.035,0.088,
-0.018,-0.047,-0.045,0.093,-0.014,-0.025,-0.020,0.060,0.006,-0.040,
-0.028,0.095,-0.013,-0.040,-0.025,0.065,-0.011,-0.045,-0.028,0.058,
-0.013,-0.040,-0.038,0.055,-0.013,-0.048,-0.048,0.015,-0.016,-0.014,
-0.030,0.040,-0.013,-0.030,-0.035,0.065,-0.020,-0.032,-0.018,0.060];
const EE_khaki = [0.090,0.133,0.003,0.122,0.034,-0.030,-0.003,0.094,0.001,0.122,
-0.007,0.135,-0.001,-0.005,-0.022,0.066,-0.020,-0.040,-0.025,0.080,
-0.016,-0.030,-0.030,0.080,-0.012,-0.010,-0.010,0.060,0.007,-0.032,
-0.020,0.078,-0.012,-0.030,-0.016,0.068,-0.010,-0.038,-0.022,0.062,
-0.012,-0.035,-0.034,0.060,-0.011,-0.045,-0.046,0.025,-0.012,-0.010,
-0.027,0.048,-0.012,-0.028,-0.030,0.072,-0.009,-0.022,-0.014,0.068];
const EE_erose = [0.090,0.133,0.002,0.121,0.033,-0.031,-0.004,0.095,0.000,0.122,
-0.007,0.128,0.000,-0.003,-0.020,0.062,-0.019,-0.037,-0.022,0.078,
-0.015,-0.028,-0.030,0.076,-0.011,-0.008,-0.009,0.058,0.007,-0.030,
-0.017,0.080,-0.012,-0.027,-0.014,0.065,-0.010,-0.036,-0.020,0.058,
-0.012,-0.033,-0.033,0.055,-0.011,-0.044,-0.045,0.020,-0.011,-0.008,
-0.026,0.042,-0.012,-0.026,-0.029,0.064,-0.008,-0.020,-0.012,0.062];
const EE_lav = [0.089,0.132,0.002,0.120,0.034,-0.032,-0.004,0.094,0.001,0.120,
-0.008,0.122,0.000,-0.002,-0.018,0.058,-0.020,-0.035,-0.020,0.070,
-0.015,-0.027,-0.028,0.070,-0.010,-0.005,-0.008,0.052,0.008,-0.028,
-0.015,0.072,-0.011,-0.025,-0.013,0.060,-0.009,-0.035,-0.018,0.052,
-0.011,-0.032,-0.033,0.047,-0.010,-0.043,-0.045,0.014,-0.010,-0.008,
-0.025,0.037,-0.011,-0.025,-0.028,0.060,-0.009,-0.020,-0.011,0.055];

// ---------- styling ----------
const FONT = '"Liberation Sans", Arial, Helvetica, sans-serif';
const C = {navy:'#1a476f', maroon:'#90353b', forest:'#55752f', dkorange:'#e37e00',
  cranberry:'#c10534', lavender:'#938dd2', khaki:'#cac27e', sienna:'#a0522d',
  emidblue:'#7b92a8', emerald:'#2d6d66', brown:'#9c8847', erose:'#bfa19c',
  gold:'#ffd200', bluishgray:'#d9e6eb'};

const PANELS = [
  {title:'Actual Growth By State', sub:'Male 14-18 Year Olds', left:47, top:94.5, height:300, ymin:-0.2306, ymax:0.2934, tx:305, tt:47, lw:1.5,
   series:[[A_gray,C.bluishgray],[A_khaki,C.khaki],[A_emid,C.emidblue],[A_lav,C.lavender],[A_sienna,C.sienna],[A_emerald,C.emerald],
           [A_forest,C.forest],[A_orange,C.dkorange],[A_gold,C.gold],[A_cran,C.cranberry],[A_navy2,C.navy],[A_navy1,C.navy]]},
  {title:'Estimated Growth By State', sub:'Female 14-18-year-olds', left:623, top:120, height:300.7, ymin:-0.2129, ymax:0.2127, tx:881, tt:73, lw:1.6,
   series:[[EA_cran,C.cranberry],[EA_lav,C.lavender],[EA_khaki,C.khaki],[EA_erose,C.erose],[EA_gold,C.gold],[EA_forest,C.forest],[EA_navy,C.navy]]},
  {title:'Actual Growth By State', sub:'Male 19-21 Year Olds', left:47, top:593.3, height:300, ymin:-0.2113, ymax:0.235, tx:305, tt:546, lw:1.5,
   series:[[B_gray,C.bluishgray],[B_brown,C.brown],[B_emid,C.emidblue],[B_lav,C.lavender],[B_maroon,C.maroon],[B_emerald,C.emerald],
           [B_forest,C.forest],[B_orange,C.dkorange],[B_gold,C.gold],[B_cran,C.cranberry],[B_navy2,C.navy],[B_navy1,C.navy]]},
  {title:'Estimated Growth By State', sub:'Female 19-21-year-olds', left:623, top:593.3, height:301, ymin:-0.212, ymax:0.2129, tx:881, tt:546, lw:1.6,
   series:[[EC_cran,C.cranberry],[EC_lav,C.lavender],[EC_khaki,C.khaki],[EC_erose,C.erose],[EC_gold,C.gold],[EC_forest,C.forest],[EC_navy,C.navy]]},
  {title:'Actual Growth By State', sub:'Male 14-21 Year Olds', left:47, top:1067.3, height:300, ymin:-0.2137, ymax:0.242, tx:305, tt:1020, lw:1.5,
   series:[[D_gray,C.bluishgray],[D_khaki,C.khaki],[D_emid,C.emidblue],[D_lav,C.lavender],[D_sienna,C.sienna],[D_emerald,C.emerald],
           [D_forest,C.forest],[D_orange,C.dkorange],[D_gold,C.gold],[D_cran,C.cranberry],[D_navy2,C.navy],[D_navy1,C.navy]]},
  {title:'Estimated Growth By State', sub:'Female 14-21-year-olds', left:623, top:1067.3, height:300, ymin:-0.2128, ymax:0.2128, tx:881, tt:1020, lw:1.6,
   series:[[EE_cran,C.cranberry],[EE_lav,C.lavender],[EE_khaki,C.khaki],[EE_erose,C.erose],[EE_gold,C.gold],[EE_forest,C.forest],[EE_navy,C.navy]]}
];
const PANEL_BOXES = [[5,32,575,418],[582,57,569,419],[5,532,575,418],[582,532,569,418],[5,1005,575,400],[582,1005,569,400]];
const CAPTIONS = [['(a)',868,23],['(b)',292,498],['(c)',868,498],['(d)',292,971],['(e)',868,971]];

function fmtY(v) {
  if (Math.abs(v) < 1e-9) return '0';
  const s = Math.abs(v).toFixed(1).replace(/^0/, '');
  return (v < 0 ? '-' : '') + s;
}
const showTick = function (idx, val) { return TICK_LABELS.indexOf(val) >= 0; };

const option = {
  animation: false,
  backgroundColor: '#ffffff',
  title: [], grid: [], xAxis: [], yAxis: [], series: [],
  graphic: []
};
PANEL_BOXES.forEach(function (b) {
  option.graphic.push({type:'rect', z:-10, silent:true, shape:{x:b[0], y:b[1], width:b[2], height:b[3]}, style:{fill:'#fbfbfb'}});
});
CAPTIONS.forEach(function (c) {
  option.graphic.push({type:'text', x:c[1], y:c[2], silent:true,
    style:{text:c[0], fill:'#000', font:'29px "Liberation Serif", "DejaVu Serif", serif', textAlign:'center', textVerticalAlign:'middle', align:'center', verticalAlign:'middle'}});
});
PANELS.forEach(function (p, k) {
  option.title.push({text:p.title, subtext:p.sub, left:p.tx, top:p.tt, textAlign:'center', padding:0, itemGap:3,
    textStyle:{fontSize:20, fontWeight:'normal', color:'#000', fontFamily:FONT, lineHeight:24},
    subtextStyle:{fontSize:15, color:'#000', fontFamily:FONT, lineHeight:18}});
  option.grid.push({left:p.left, top:p.top, width:517, height:p.height, containLabel:false});
  option.xAxis.push({gridIndex:k, type:'category', data:QUARTERS, boundaryGap:false,
    name:'Time', nameLocation:'middle', nameGap:24, nameTextStyle:{fontSize:14, color:'#000', fontFamily:FONT},
    axisLine:{lineStyle:{color:'#1a1a1a', width:1}},
    axisTick:{interval:showTick, length:5, lineStyle:{color:'#1a1a1a'}},
    axisLabel:{interval:showTick, fontSize:14, color:'#000', margin:8, fontFamily:FONT},
    splitLine:{show:false}});
  option.yAxis.push({gridIndex:k, type:'value', min:p.ymin, max:p.ymax,
    axisLine:{show:true, lineStyle:{color:'#1a1a1a', width:1}},
    axisTick:{show:true, length:5, customValues:Y_TICKS, lineStyle:{color:'#1a1a1a'}},
    axisLabel:{customValues:Y_TICKS, rotate:90, formatter:fmtY, fontSize:14, color:'#000', margin:9, fontFamily:FONT},
    splitLine:{show:true, lineStyle:{color:'#ececec', width:1}}});
  p.series.forEach(function (s) {
    option.series.push({type:'line', xAxisIndex:k, yAxisIndex:k, data:[null].concat(s[0], [null]),
      showSymbol:false, symbol:'none', silent:true, connectNulls:false,
      lineStyle:{color:s[1], width:p.lw}, itemStyle:{color:s[1]}});
  });
});
const chart = echarts.init(document.getElementById('chart'), null, {renderer:'svg', width:1151, height:1405});
chart.setOption(option);
</script></body></html>
